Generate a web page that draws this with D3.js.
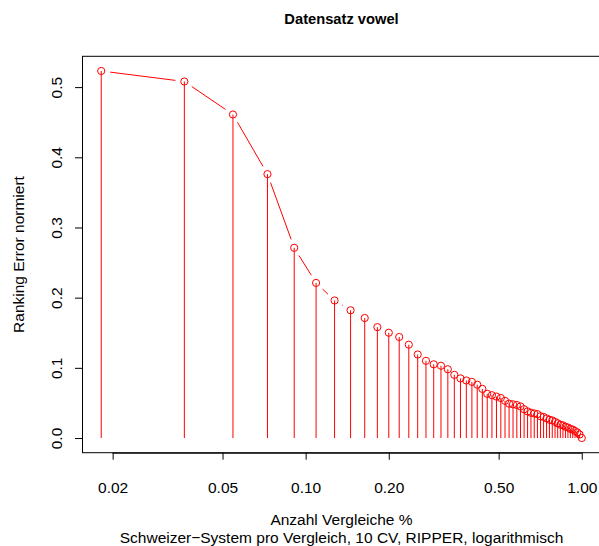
<!DOCTYPE html>
<html><head><meta charset="utf-8">
<script src="https://cdn.jsdelivr.net/npm/d3@7"></script>
<style>body{margin:0;background:#fff}svg{display:block;font-family:"Liberation Sans",Arial,sans-serif}</style>
</head><body><div id="chart"></div>
<script>
const nComparisons = 55;
const errors = [0.523,0.508,0.461,0.376,0.271,0.221,0.196,0.182,0.171,0.158,
0.150,0.144,0.133,0.119,0.110,0.105,0.103,0.098,0.090,0.085,
0.082,0.080,0.076,0.070,0.063,0.061,0.059,0.057,0.053,0.049,
0.048,0.047,0.045,0.041,0.038,0.036,0.035,0.034,0.031,0.030,
0.028,0.026,0.025,0.023,0.021,0.019,0.018,0.016,0.015,0.013,
0.012,0.010,0.008,0.005,0.000];
const xTicks = [0.02,0.05,0.1,0.2,0.5,1.0];
const xTickLabels = ["0.02","0.05","0.10","0.20","0.50","1.00"];
const yTicks = [0,0.1,0.2,0.3,0.4,0.5];
const yTickLabels = ["0.0","0.1","0.2","0.3","0.4","0.5"];
const title = "Datensatz vowel";
const xLabel1 = "Anzahl Vergleiche %";
const xLabel2 = "Schweizer\u2212System pro Vergleich, 10 CV, RIPPER, logarithmisch";
const yLabel = "Ranking Error normiert";

const data = errors.map((e,i)=>({x:(i+1)/nComparisons, y:e}));

const W=599,H=546;
const mLeft=82, mRight=601, mTop=56.3, mBottom=452.7;
const svg=d3.select("#chart").append("svg").attr("width",W).attr("height",H);

const lx0=Math.log10(d3.min(data,d=>d.x)), lx1=Math.log10(d3.max(data,d=>d.x));
const ex=(lx1-lx0)*0.04;
const x=d3.scaleLog().domain([Math.pow(10,lx0-ex),Math.pow(10,lx1+ex)]).range([mLeft,mRight]);
const ymax=d3.max(data,d=>d.y), ymin=0, ey=(ymax-ymin)*0.04;
const y=d3.scaleLinear().domain([ymin-ey,ymax+ey]).range([mBottom,mTop]);

const red="#ff0000";
// vertical lines (type h)
svg.append("g").selectAll("line").data(data).join("line")
  .attr("x1",d=>x(d.x)).attr("x2",d=>x(d.x))
  .attr("y1",y(0)).attr("y2",d=>y(d.y))
  .attr("stroke",red).attr("stroke-width",1);

// connecting lines with gaps (type b)
const gap=9;
const segs=[];
for(let i=0;i<data.length-1;i++){
  const x1=x(data[i].x),y1=y(data[i].y),x2=x(data[i+1].x),y2=y(data[i+1].y);
  const L=Math.hypot(x2-x1,y2-y1);
  if(L>2*gap){
    const ux=(x2-x1)/L, uy=(y2-y1)/L;
    segs.push([x1+ux*gap,y1+uy*gap,x2-ux*gap,y2-uy*gap]);
  }
}
svg.append("g").selectAll("line").data(segs).join("line")
  .attr("x1",d=>d[0]).attr("y1",d=>d[1]).attr("x2",d=>d[2]).attr("y2",d=>d[3])
  .attr("stroke",red).attr("stroke-width",1);

// points
svg.append("g").selectAll("circle").data(data).join("circle")
  .attr("cx",d=>x(d.x)).attr("cy",d=>y(d.y)).attr("r",3.6)
  .attr("fill","none").attr("stroke",red).attr("stroke-width",1);

// box
svg.append("rect").attr("x",mLeft+0.5).attr("y",mTop).attr("width",mRight-mLeft).attr("height",mBottom-mTop)
  .attr("fill","none").attr("stroke","#000").attr("stroke-width",1);

// x axis
const xa=d3.axisBottom(x).tickValues(xTicks).tickFormat((d,i)=>xTickLabels[i]).tickSize(7).tickPadding(22);
const gx=svg.append("g").attr("transform",`translate(0,${mBottom})`).call(xa);
gx.select(".domain").attr("d",`M${x(xTicks[0])},0.5H${x(xTicks[xTicks.length-1])}`);
gx.selectAll("text").attr("font-size",15.5).attr("font-family","Liberation Sans, Arial, sans-serif").attr("fill","#000");

// y axis
const ya=d3.axisLeft(y).tickValues(yTicks).tickFormat((d,i)=>yTickLabels[i]).tickSize(7);
const gy=svg.append("g").attr("transform",`translate(${mLeft},0)`).call(ya);
gy.select(".domain").attr("d",`M0.5,${y(yTicks[0])}V${y(yTicks[yTicks.length-1])}`);
gy.selectAll("text").attr("font-size",15.5).attr("font-family","Liberation Sans, Arial, sans-serif").attr("fill","#000")
  .attr("text-anchor","middle").attr("dy",null).attr("x",null)
  .attr("transform",d=>`translate(-20,0) rotate(-90)`);

// title & labels
const cx=(mLeft+mRight)/2;
svg.append("text").attr("x",cx).attr("y",24).attr("text-anchor","middle").attr("font-weight","bold").attr("font-size",14.7).text(title);
svg.append("text").attr("x",cx).attr("y",525).attr("text-anchor","middle").attr("font-size",15.5).text(xLabel1);
svg.append("text").attr("x",cx).attr("y",543).attr("text-anchor","middle").attr("font-size",15.5).text(xLabel2);
svg.append("text").attr("transform",`translate(24,${(mTop+mBottom)/2}) rotate(-90)`).attr("text-anchor","middle").attr("font-size",15.5).text(yLabel);
</script></body></html>
